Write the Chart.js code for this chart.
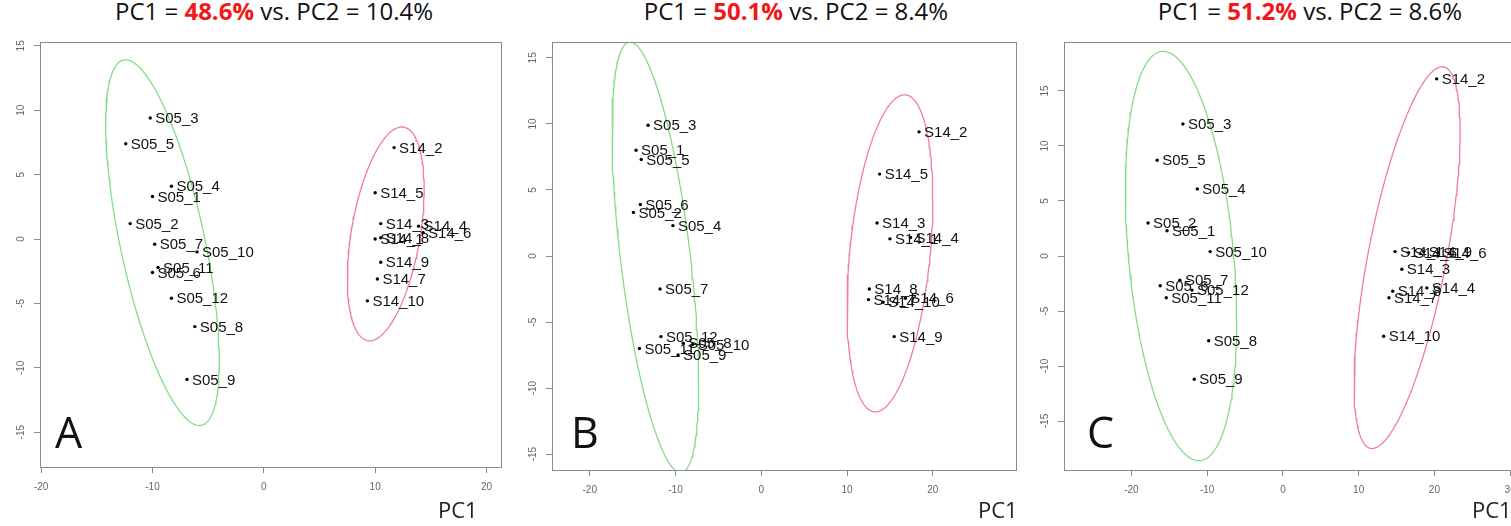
<!DOCTYPE html>
<html>
<head>
<meta charset="utf-8">
<script src="https://cdn.jsdelivr.net/npm/chart.js@4.4.1/dist/chart.umd.min.js"></script>
<style>
  html, body { margin: 0; padding: 0; background: #fff; overflow: hidden; width: 1511px; height: 526px; position: relative; font-family: "Open Sans", sans-serif; }
  .panel { position: absolute; }
  .title { position: absolute; top: -1px; font-size: 24px; line-height: 24px; white-space: nowrap; transform: translateX(-50%); color: #111; }
  .title b { color: #f01818; }
  .pc1 { position: absolute; top: 498px; font-size: 22px; line-height: 22px; color: #222; }
  .tag { position: absolute; top: 410px; font-size: 43px; line-height: 43px; color: #111; }
</style>
</head>
<body>
<script>
/* ---------- data ---------- */
const panelTags = ["A", "B", "C"];
const pc1Share = [48.6, 50.1, 51.2];
const pc2Share = [10.4, 8.4, 8.6];

const s05Names = ["S05_1", "S05_2", "S05_3", "S05_4", "S05_5", "S05_6", "S05_7", "S05_8", "S05_9", "S05_10", "S05_11", "S05_12"];
const s14Names = ["S14_1", "S14_2", "S14_3", "S14_4", "S14_5", "S14_6", "S14_7", "S14_8", "S14_9", "S14_10"];

// panel A
const s05A_x = [-10.0, -12.0, -10.2, -8.3, -12.4, -10.0, -9.8, -6.2, -6.9, -6.0, -9.5, -8.3];
const s05A_y = [3.3, 1.2, 9.4, 4.1, 7.4, -2.6, -0.4, -6.8, -10.9, -1.0, -2.2, -4.6];
const s14A_x = [10.0, 11.7, 10.5, 13.9, 10.0, 14.3, 10.2, 10.5, 10.5, 9.3];
const s14A_y = [0.0, 7.1, 1.2, 1.0, 3.6, 0.5, -3.1, 0.1, -1.8, -4.8];

// panel B
const s05B_x = [-14.6, -14.9, -13.2, -10.3, -14.0, -14.1, -11.8, -9.1, -9.7, -8.0, -14.2, -11.7];
const s05B_y = [8.0, 3.3, 9.9, 2.3, 7.3, 3.9, -2.5, -6.6, -7.5, -6.7, -7.0, -6.1];
const s14B_x = [15.0, 18.4, 13.5, 17.4, 13.8, 16.8, 12.5, 12.6, 15.5, 14.2];
const s14B_y = [1.3, 9.4, 2.5, 1.4, 6.2, -3.2, -3.3, -2.5, -6.1, -3.5];

// panel C
const s05C_x = [-15.3, -17.8, -13.2, -11.3, -16.6, -16.2, -13.6, -9.8, -11.7, -9.6, -15.4, -12.0];
const s05C_y = [2.3, 3.0, 12.0, 6.1, 8.7, -2.7, -2.2, -7.7, -11.2, 0.4, -3.8, -3.1];
const s14C_x = [14.8, 20.3, 15.7, 19.0, 16.6, 20.5, 14.0, 14.5, 18.6, 13.3];
const s14C_y = [0.4, 16.1, -1.2, -2.9, 0.3, 0.3, -3.8, -3.2, 0.4, -7.3];

// group ellipses: centre x, centre y, half width, half height, cos(phase)
const s05Ellipse = [[-9.1, -0.28, 5.1, 14.2, -0.65], [-12.35, -0.1, 5.05, 16.3, -0.584], [-13.45, 0, 7.35, 18.6, -0.32]];
const s14Ellipse = [[10.95, 0.4, 3.45, 8.3, 0.42], [15.0, 0.2, 5.0, 12.0, 0.34], [16.4, -0.15, 7.0, 17.35, 0.66]];

const xTicks = [[-20, -10, 0, 10, 20], [-20, -10, 0, 10, 20], [-20, -10, 0, 10, 20, 30]];
const yTicks = [-15, -10, -5, 0, 5, 10, 15];
const xRange = [[-20.1, 21.3], [-24.4, 29.7], [-28.9, 34.6]];
const yRange = [[-17.7, 15.3], [-16.2, 16.2], [-19.45, 19.45]];

/* ---------- layout ---------- */
// plot box in page pixels: left, top, right, bottom
const boxes = [[40, 42, 501, 467], [552, 42, 1016, 470], [1064, 42, 1545, 470]];
const titleCenters = [274, 796, 1310];
const pc1Left = [438, 978, 1472];
const tagLeft = [55, 571, 1087];

const GREEN = "#86dc86";
const RED = "#f08090";
const GRAY = "#8a8a8a";

const points = (xs, ys) => xs.map((x, i) => ({ x: x, y: ys[i] }));

const ellipsePoints = function (e) {
  const [cx, cy, rx, ry, c] = e;
  const d = Math.acos(c);
  const out = [];
  for (let i = 0; i <= 180; i++) {
    const t = i / 180 * 2 * Math.PI;
    out.push({ x: cx + rx * Math.cos(t), y: cy + ry * Math.cos(t - d) });
  }
  return out;
};

/* box + R style rotated y labels */
const boxPlugin = {
  id: "box",
  afterDraw(chart) {
    const { ctx, chartArea: a } = chart;
    ctx.save();
    ctx.strokeStyle = GRAY;
    ctx.lineWidth = 1;
    ctx.strokeRect(Math.round(a.left) + 0.5, Math.round(a.top) + 0.5, Math.round(a.right - a.left), Math.round(a.bottom - a.top));
    const ys = chart.scales.y;
    ctx.fillStyle = "#666";
    ctx.font = "10px 'Liberation Sans'";
    ctx.textAlign = "center";
    ctx.textBaseline = "middle";
    ys.ticks.forEach(t => {
      ctx.save();
      ctx.translate(a.left - 19, ys.getPixelForValue(t.value));
      ctx.rotate(-Math.PI / 2);
      ctx.fillText(String(t.value), 0, 0);
      ctx.restore();
    });
    ctx.restore();
  }
};

/* sample names to the right of each dot */
const namePlugin = {
  id: "names",
  afterDatasetsDraw(chart) {
    const ctx = chart.ctx;
    ctx.save();
    ctx.fillStyle = "#111";
    ctx.font = "15px 'Liberation Sans'";
    ctx.textAlign = "left";
    ctx.textBaseline = "middle";
    chart.data.datasets.forEach((ds, di) => {
      if (!ds.names) return;
      chart.getDatasetMeta(di).data.forEach((pt, i) => {
        ctx.fillText(ds.names[i], pt.x + 5, pt.y + 1);
      });
    });
    ctx.restore();
  }
};

const groups = [
  [s05A_x, s05A_y, s14A_x, s14A_y],
  [s05B_x, s05B_y, s14B_x, s14B_y],
  [s05C_x, s05C_y, s14C_x, s14C_y]
];

for (let p = 0; p < 3; p++) {
  const [l, t, r, b] = boxes[p];
  const div = document.createElement("div");
  div.className = "panel";
  div.style.left = (l - 40) + "px";
  div.style.top = (t - 4) + "px";
  const canvas = document.createElement("canvas");
  canvas.width = r - l + 44;
  canvas.height = b - t + 44;
  div.appendChild(canvas);
  document.body.appendChild(div);

  const [ax, ay, bx, by] = groups[p];
  new Chart(canvas, {
    type: "scatter",
    data: {
      datasets: [
        { data: points(ax, ay), names: s05Names, pointRadius: 1.7, pointBackgroundColor: "#000", pointBorderWidth: 0 },
        { data: points(bx, by), names: s14Names, pointRadius: 1.7, pointBackgroundColor: "#000", pointBorderWidth: 0 },
        { data: ellipsePoints(s05Ellipse[p]), showLine: true, pointRadius: 0, borderColor: GREEN, borderWidth: 1.3, tension: 0 },
        { data: ellipsePoints(s14Ellipse[p]), showLine: true, pointRadius: 0, borderColor: RED, borderWidth: 1.3, tension: 0 }
      ]
    },
    options: {
      responsive: false,
      animation: false,
      devicePixelRatio: 1,
      layout: { padding: { left: 0, right: 4, top: 4, bottom: 0 } },
      plugins: { legend: { display: false }, tooltip: { enabled: false } },
      scales: {
        x: {
          type: "linear", position: "bottom",
          min: xRange[p][0], max: xRange[p][1],
          afterBuildTicks: s => { s.ticks = xTicks[p].map(v => ({ value: v })); },
          afterFit: s => { s.height = 40; },
          ticks: { color: "#666", font: { family: "Liberation Sans", size: 10 }, padding: 8, maxRotation: 0, autoSkip: false },
          grid: { drawOnChartArea: false, drawTicks: true, tickLength: 6, color: GRAY },
          border: { display: false }
        },
        y: {
          type: "linear", position: "left",
          min: yRange[p][0], max: yRange[p][1],
          afterBuildTicks: s => { s.ticks = yTicks.map(v => ({ value: v })); },
          afterFit: s => { s.width = 40; },
          ticks: { display: false },
          grid: { drawOnChartArea: false, drawTicks: true, tickLength: 6, color: GRAY },
          border: { display: false }
        }
      }
    },
    plugins: [boxPlugin, namePlugin]
  });

  const title = document.createElement("div");
  title.className = "title";
  title.style.left = titleCenters[p] + "px";
  title.innerHTML = "PC1 = <b>" + pc1Share[p].toFixed(1) + "%</b> vs. PC2 = " + pc2Share[p].toFixed(1) + "%";
  document.body.appendChild(title);

  const pc = document.createElement("div");
  pc.className = "pc1";
  pc.style.left = pc1Left[p] + "px";
  pc.textContent = "PC1";
  document.body.appendChild(pc);

  const tag = document.createElement("div");
  tag.className = "tag";
  tag.style.left = tagLeft[p] + "px";
  tag.textContent = panelTags[p];
  document.body.appendChild(tag);
}
</script>
</body>
</html>
